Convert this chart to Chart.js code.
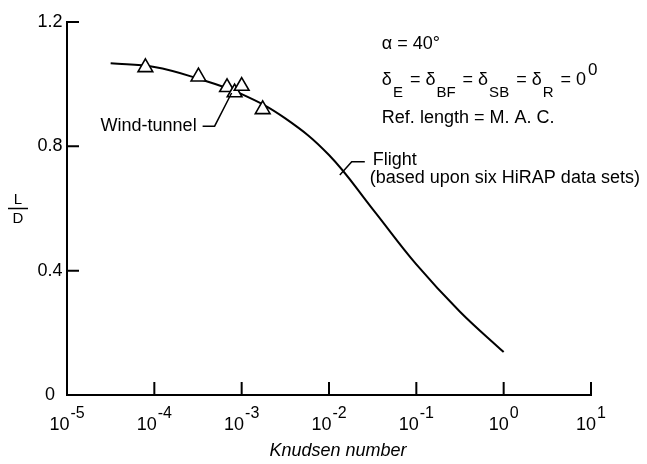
<!DOCTYPE html>
<html><head><meta charset="utf-8">
<script src="https://cdn.jsdelivr.net/npm/chart.js@4"></script>
<style>html,body{margin:0;padding:0;background:#fff}#wrap{width:647px;height:464px}</style>
</head><body><div id="wrap"><canvas id="c" width="647" height="464"></canvas></div>
<script>
// ---- data ----
const flightKn = [3.16e-5, 1.0e-4, 3.16e-4, 1.0e-3, 3.16e-3, 1.0e-2, 3.16e-2, 0.1, 0.316, 1.0];
const flightLD = [1.067, 1.055, 1.018, 0.968, 0.890, 0.772, 0.598, 0.420, 0.268, 0.138];
const windKn = [7.9e-5, 3.2e-4, 6.8e-4, 8.3e-4, 1.0e-3, 1.74e-3];
const windLD = [1.054, 1.024, 0.990, 0.973, 0.994, 0.919];
const xTickValues = [1e-5, 1e-4, 1e-3, 1e-2, 1e-1, 1, 10];
const xTickExponents = ['-5', '-4', '-3', '-2', '-1', '0', '1'];
const yTickValues = [0, 0.4, 0.8, 1.2];
const yTickLabels = ['0', '0.4', '0.8', '1.2'];

const FONT = '"Liberation Sans", Arial, sans-serif';

const annot = {
  id: 'annot',
  afterDraw(chart) {
    const ctx = chart.ctx, xs = chart.scales.x, ys = chart.scales.y, a = chart.chartArea;
    const P = (kn, ld) => [xs.getPixelForValue(kn), ys.getPixelForValue(ld)];
    ctx.save();
    ctx.strokeStyle = '#000'; ctx.fillStyle = '#000';
    // inward tick marks
    ctx.lineWidth = 2;
    ctx.beginPath();
    yTickValues.forEach(v => { const y = ys.getPixelForValue(v); ctx.moveTo(a.left, y); ctx.lineTo(a.left + 12, y); });
    xTickValues.forEach(v => { const x = xs.getPixelForValue(v); ctx.moveTo(x, a.bottom); ctx.lineTo(x, a.bottom - 13); });
    ctx.stroke();
    // y tick labels
    ctx.font = '18px ' + FONT; ctx.textAlign = 'center'; ctx.textBaseline = 'middle';
    yTickValues.forEach((v, i) => { ctx.fillText(yTickLabels[i], a.left - 17, ys.getPixelForValue(v)); });
    // x tick labels 10^n
    ctx.textAlign = 'left'; ctx.textBaseline = 'alphabetic';
    xTickValues.forEach((v, i) => {
      const x = xs.getPixelForValue(v);
      ctx.font = '18px ' + FONT; const wb = ctx.measureText('10').width;
      ctx.font = '16px ' + FONT; const we = ctx.measureText(xTickExponents[i]).width;
      const start = x - (wb + 1 + we) / 2;
      ctx.font = '18px ' + FONT; ctx.fillText('10', start, a.bottom + 35);
      ctx.font = '16px ' + FONT; ctx.fillText(xTickExponents[i], start + wb + 1, a.bottom + 23);
    });
    // axis titles
    ctx.font = 'italic 18px ' + FONT; ctx.textAlign = 'center'; ctx.textBaseline = 'middle';
    ctx.fillText('Knudsen number', (a.left + a.right) / 2 + 9, a.bottom + 56);
    const ly = ys.getPixelForValue(0.6), lx = a.left - 49;
    ctx.font = '15px ' + FONT;
    ctx.fillText('L', lx, ly - 9);
    ctx.fillText('D', lx, ly + 10);
    ctx.lineWidth = 1.5;
    ctx.beginPath(); ctx.moveTo(lx - 10, ly); ctx.lineTo(lx + 10, ly); ctx.stroke();
    // wind-tunnel label + leader
    ctx.font = '18px ' + FONT; ctx.textAlign = 'right';
    let p = P(3.05e-4, 0.865);
    ctx.fillText('Wind-tunnel', p[0], p[1]);
    ctx.lineWidth = 1.5;
    ctx.beginPath();
    p = P(3.57e-4, 0.865); ctx.moveTo(p[0], p[1]);
    p = P(4.9e-4, 0.865); ctx.lineTo(p[0], p[1]);
    p = P(7.67e-4, 0.9716); ctx.lineTo(p[0], p[1]);
    ctx.stroke();
    // flight label + leader
    ctx.beginPath();
    p = P(0.0133, 0.708); ctx.moveTo(p[0], p[1]);
    p = P(0.0182, 0.7506); ctx.lineTo(p[0], p[1]);
    p = P(0.0257, 0.7506); ctx.lineTo(p[0], p[1]);
    ctx.stroke();
    ctx.textAlign = 'left';
    p = P(0.0317, 0.756); ctx.fillText('Flight', p[0], p[1]);
    p = P(0.0293, 0.698); ctx.fillText('(based upon six HiRAP data sets)', p[0], p[1]);
    // condition block
    p = P(0.0403, 1.129); ctx.fillText('\u03b1 = 40\u00b0', p[0], p[1]);
    p = P(0.0403, 0.891); ctx.fillText('Ref. length = M. A. C.', p[0], p[1]);
    // delta line
    const bl = ys.getPixelForValue(0.997);
    let x = P(0.0403, 0)[0];
    ctx.textBaseline = 'alphabetic';
    const parts = [['\u03b4', 0], ['E', 1], [' = ', 0], ['\u03b4', 0], ['BF', 1], [' = ', 0], ['\u03b4', 0], ['SB', 1], [' = ', 0], ['\u03b4', 0], ['R', 1], [' = ', 0], ['0', 0], ['0', 2]];
    parts.forEach(([t, k]) => {
      if (k === 0) { ctx.font = '18px ' + FONT; ctx.fillText(t, x, bl); x += ctx.measureText(t).width; }
      else if (k === 1) { ctx.font = '15px ' + FONT; ctx.fillText(t, x + 1, bl + 12); x += ctx.measureText(t).width + 3; }
      else { ctx.font = '17px ' + FONT; ctx.fillText(t, x + 2, bl - 10); }
    });
    ctx.restore();
  }
};

new Chart(document.getElementById('c'), {
  type: 'line',
  data: {
    datasets: [
      {
        label: 'Wind-tunnel',
        data: windKn.map((k, i) => ({ x: k, y: windLD[i] })),
        showLine: false,
        pointStyle: 'triangle',
        pointRadius: 8.5,
        pointBackgroundColor: '#fff',
        pointBorderColor: '#000',
        pointBorderWidth: 1.6
      },
      {
        label: 'Flight',
        data: flightKn.map((k, i) => ({ x: k, y: flightLD[i] })),
        borderColor: '#000',
        borderWidth: 2,
        pointRadius: 0,
        tension: 0.4,
        fill: false
      }
    ]
  },
  options: {
    responsive: false,
    animation: false,
    devicePixelRatio: 1,
    layout: { padding: { left: 67, right: 56, top: 22, bottom: 69 } },
    plugins: { legend: { display: false }, tooltip: { enabled: false } },
    scales: {
      x: {
        type: 'logarithmic', min: 1e-5, max: 10,
        ticks: { display: false },
        grid: { display: false, drawTicks: false },
        border: { display: true, color: '#000', width: 2 }
      },
      y: {
        type: 'linear', min: 0, max: 1.2,
        ticks: { display: false },
        grid: { display: false, drawTicks: false },
        border: { display: true, color: '#000', width: 2 }
      }
    }
  },
  plugins: [annot]
});
</script>
</body></html>
